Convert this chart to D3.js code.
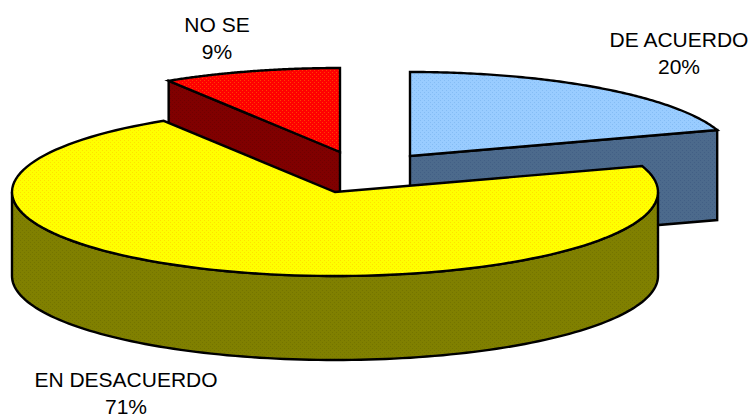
<!DOCTYPE html>
<html>
<head>
<meta charset="utf-8">
<script src="https://cdn.jsdelivr.net/npm/d3@7"></script>
<style>
  html, body { margin: 0; padding: 0; background: #fff; }
  svg { display: block; }
</style>
</head>
<body>
<script>
// values, the labels are the rounded ones
const categories = ["DE ACUERDO", "EN DESACUERDO", "NO SE"];
const values = [20, 71.1, 8.9];
const percentLabels = ["20%", "71%", "9%"];

const topColors = ["#99ccff", "#ffff00", "#ff0000"];
const topDots = ["#84bcf4", "#ffe000", "#ff4000"];
const sideColors = ["#4c6a8c", "#808000", "#800000"];
const sideDots = ["#425f85", "#747400", "#700000"];

const width = 754, height = 418;
const rx = 323, ry = 84;

// centre and wall height of each exploded slice
const centers = [[410, 156], [335, 192], [340, 152]];
const depths = [90, 84, 84];
const labelPos = [[679, 47], [126, 387], [217, 32]];
const lineGap = 26.5;

const svg = d3.select("body").append("svg")
  .attr("width", width)
  .attr("height", height);

// dither texture like the original export
const defs = svg.append("defs");
function texture(id, base, dot) {
  const p = defs.append("pattern")
    .attr("id", id)
    .attr("patternUnits", "userSpaceOnUse")
    .attr("width", 4)
    .attr("height", 4);
  p.append("rect").attr("width", 4).attr("height", 4).attr("fill", base);
  p.append("rect").attr("x", 0).attr("y", 0).attr("width", 1).attr("height", 1).attr("fill", dot);
  p.append("rect").attr("x", 2).attr("y", 2).attr("width", 1).attr("height", 1).attr("fill", dot);
}
categories.forEach((c, i) => {
  texture("top" + i, topColors[i], topDots[i]);
  texture("side" + i, sideColors[i], sideDots[i]);
});

const pie = d3.pie().sort(null).value(d => d)(values);

// point on the flattened rim, angle clockwise from 12 o'clock
const rim = (a, c, drop = 0) => [
  c[0] + rx * Math.sin(a),
  c[1] - ry * Math.cos(a) + drop
];
const arcPoints = (a0, a1, c, drop = 0) =>
  d3.range(0, 121).map(k => rim(a0 + (a1 - a0) * k / 120, c, drop));

const line = d3.line();

function drawShape(points, fill) {
  svg.append("path")
    .attr("d", line(points) + "Z")
    .attr("fill", fill)
    .attr("stroke", "#000")
    .attr("stroke-width", 2.4)
    .attr("stroke-linejoin", "miter");
}

// back slices first, the big one covers them
[2, 0, 1].forEach(i => {
  const s = pie[i], c = centers[i], depth = depths[i];

  if (i === 1) {
    // outer wall, only the front half of the rim shows
    const front = arcPoints(Math.PI / 2, 3 * Math.PI / 2, c);
    const frontLow = arcPoints(3 * Math.PI / 2, Math.PI / 2, c, depth);
    drawShape(front.concat(frontLow), "url(#side1)");
  } else {
    // cut face that looks at the viewer
    const a = i === 0 ? s.endAngle : s.startAngle;
    const p = rim(a, c);
    drawShape([c, p, [p[0], p[1] + depth], [c[0], c[1] + depth]], "url(#side" + i + ")");
  }

  const top = [c].concat(arcPoints(s.startAngle, s.endAngle, c));
  drawShape(top, "url(#top" + i + ")");
});

const labels = svg.append("g")
  .attr("font-family", "'Liberation Sans', Arial, sans-serif")
  .attr("font-size", "21px")
  .attr("fill", "#000")
  .attr("text-anchor", "middle");

categories.forEach((c, i) => {
  labels.append("text").attr("x", labelPos[i][0]).attr("y", labelPos[i][1]).text(c);
  labels.append("text").attr("x", labelPos[i][0]).attr("y", labelPos[i][1] + lineGap).text(percentLabels[i]);
});
</script>
</body>
</html>
